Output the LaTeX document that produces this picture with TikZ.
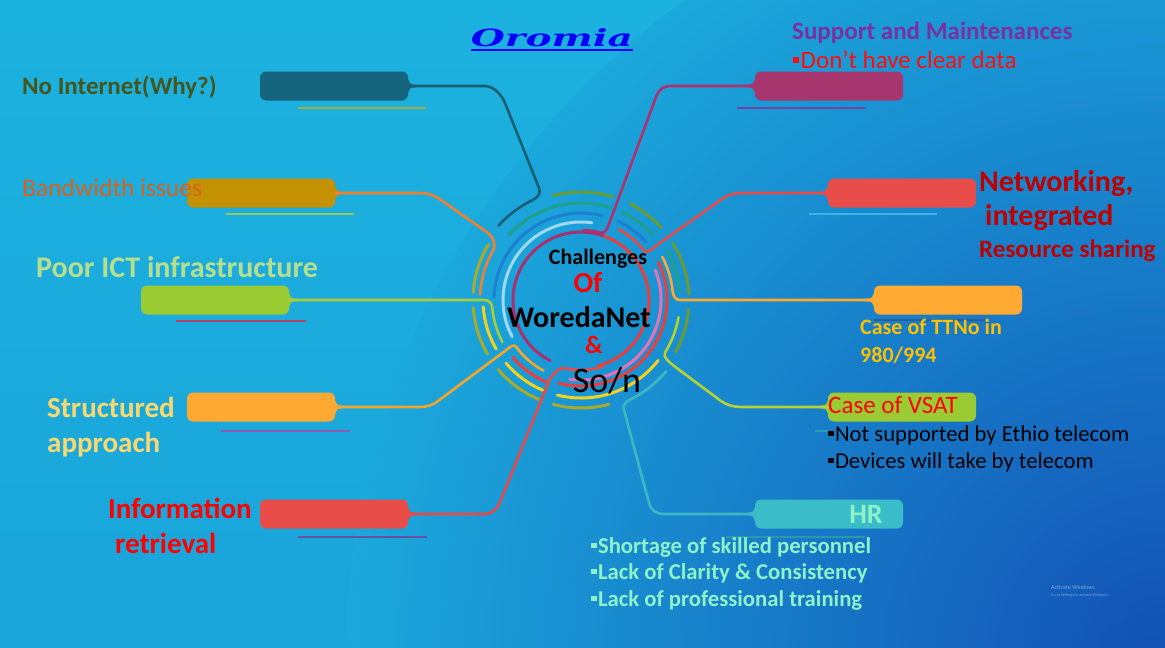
\documentclass[tikz,border=0pt]{standalone}
\usepackage{fontspec}
\usepackage{graphicx}
\setmainfont{Carlito}
\newfontfamily\titlefont{DejaVu Serif}
\definecolor{bgT}{HTML}{1CB2DF}
\definecolor{bgB}{HTML}{1AA4DA}
\definecolor{bgDark}{HTML}{1350B5}
\definecolor{bgMid}{HTML}{1BA8DC}
\definecolor{cNoInt}{HTML}{16657E}\definecolor{lNoInt}{HTML}{1A5E74}
\definecolor{cBand}{HTML}{C49102}\definecolor{lBand}{HTML}{F0802E}
\definecolor{cPoor}{HTML}{9ACB33}\definecolor{lPoor}{HTML}{A8CD3A}
\definecolor{cStruct}{HTML}{FEAA32}\definecolor{lStruct}{HTML}{F5A52A}
\definecolor{cInfo}{HTML}{E84D4A}\definecolor{lInfo}{HTML}{E84A48}
\definecolor{cSupp}{HTML}{A7366E}\definecolor{lSupp}{HTML}{B0306E}
\definecolor{cNet}{HTML}{E84D4A}\definecolor{lNet}{HTML}{E84A48}
\definecolor{cTT}{HTML}{FFAA32}\definecolor{lTT}{HTML}{FFA82E}
\definecolor{cVSAT}{HTML}{9ACB33}\definecolor{lVSAT}{HTML}{B5D232}
\definecolor{cHR}{HTML}{3ABDC9}\definecolor{lHR}{HTML}{3FB7C2}
\definecolor{rMag}{HTML}{A8306E}\definecolor{rRed}{HTML}{E8403F}
\definecolor{rLB}{HTML}{A0D8F2}\definecolor{rPink}{HTML}{E572B8}
\definecolor{rBlue}{HTML}{1D7FD0}\definecolor{rTeal}{HTML}{1FA08C}
\definecolor{rYel}{HTML}{F2D21E}\definecolor{rOliveG}{HTML}{6A9A34}
\definecolor{rOliveY}{HTML}{A9A92A}
\definecolor{tNoInt}{HTML}{44561E}\definecolor{tBand}{HTML}{D8621E}
\definecolor{tPoor}{HTML}{B5DF8E}\definecolor{tStruct}{HTML}{F9D870}
\definecolor{tInfo}{HTML}{FF0000}\definecolor{tSupp}{HTML}{7A30A0}
\definecolor{tDont}{HTML}{FF0D0D}\definecolor{tNet}{HTML}{C00000}
\definecolor{tTT}{HTML}{FFC000}\definecolor{tVSAT}{HTML}{FF0000}
\definecolor{tHR}{HTML}{8EF2C8}\definecolor{titleblue}{HTML}{0000FF}
\definecolor{uNoInt}{HTML}{A0AE40}\definecolor{uBand}{HTML}{9CC65E}
\definecolor{uPoor}{HTML}{B04468}\definecolor{uStruct}{HTML}{8E5DB0}
\definecolor{uInfo}{HTML}{6A50A0}\definecolor{uSupp}{HTML}{7044A0}
\definecolor{uNet}{HTML}{3FB2EA}\definecolor{uTT}{HTML}{2A5C9A}
\definecolor{uVSAT}{HTML}{2AA0B0}\definecolor{uHR}{HTML}{2A9AAA}
\newcommand\bul{\raisebox{0.22em}{\rule{0.24em}{0.24em}}\hspace{0.06em}}
\newcommand\neck[3]{\fill[#2] ([shift={(0,-6.5)}]#1) .. controls ([shift={({2*#3},-1.6)}]#1) .. ([shift={({8*#3},-1.3)}]#1) -- ([shift={({8*#3},1.3)}]#1) .. controls ([shift={({2*#3},1.6)}]#1) .. ([shift={(0,6.5)}]#1) -- cycle;}
\tikzset{
  box/.style={rectangle, rounded corners=6pt, minimum width=148pt, minimum height=29pt, inner sep=0pt, draw=none},
  conn/.style={line width=2.6pt, line cap=round, line join=round},
  ring/.style={line width=3pt, line cap=round},
  uline/.style={line width=1.4pt},
  lbl/.style={anchor=base west, inner sep=0pt},
  clbl/.style={anchor=base, inner sep=0pt},
}
\begin{document}
\begin{tikzpicture}[x=1pt,y=-1pt]
\useasboundingbox (0,0) rectangle (1165,648);
% background
\shade[top color=bgT, bottom color=bgB] (0,0) rectangle (1165,648);
\begin{scope}
  \clip (0,0) rectangle (1165,648);
  \shade[inner color=bgDark, outer color=bgMid] (1165,665) circle (820);
\end{scope}
\coordinate (C) at (581,300);
% title
\node[clbl, text=titleblue] (tTitle) at (552,46) {\resizebox{162pt}{18pt}{\titlefont\bfseries\itshape Oromia}};
\draw[line width=2.4pt, titleblue] ([yshift=-4pt]tTitle.base west) -- ([yshift=-4pt]tTitle.base east);
% underlines
\draw[uline, uNoInt] (298,108) -- (426,108);
\draw[uline, uBand] (226,214) -- (354,214);
\draw[uline, uPoor] (176,321) -- (306,321);
\draw[uline, uStruct] (221,431) -- (350,431);
\draw[uline, uInfo] (298,537) -- (427,537);
\draw[uline, uSupp] (737,108) -- (866,108);
\draw[uline, uNet] (809,214) -- (937,214);
\draw[uline, uTT] (874,320) -- (985,320);
\draw[uline, uVSAT] (815,431) -- (828,431);
\draw[uline, uHR] (726,537) -- (865,537);
% rings
\foreach \r/\a/\b/\c in {68/117/290/rMag, 68/290/435/rRed, 78/152/278/rLB, 80/-22/98/rPink,
  87/182/284/rBlue, 87/295/318/rBlue, 89/113/140/rRed, 86/334/465/rRed,
  97/222/288/rTeal, 97/295/318/rTeal, 99/330/355/rTeal,
  98/150/176/rYel, 98/113/140/rYel, 98/38/104/rYel,
  108/255/287/rOliveG, 108/297/318/rOliveG, 108/328/357/rOliveG, 108/5/29/rOliveG,
  108/184/211/rOliveY, 108/150/176/rOliveY, 108/113/140/rOliveY, 108/75/105/rOliveY}
  \draw[ring, \c] ([shift={(\a:\r)}]C) arc[start angle=\a, end angle=\b, radius=\r];
% boxes
\node[box, fill=cNoInt] (bNoInt) at (334,86) {};
\node[box, fill=cBand] (bBand) at (261,193) {};
\node[box, fill=cPoor] (bPoor) at (215,300) {};
\node[box, fill=cStruct] (bStruct) at (261,407) {};
\node[box, fill=cInfo] (bInfo) at (334,514) {};
\node[box, fill=cSupp] (bSupp) at (829,86) {};
\node[box, fill=cNet] (bNet) at (902,193) {};
\node[box, fill=cTT] (bTT) at (948,300) {};
\node[box, fill=cVSAT] (bVSAT) at (902,407) {};
\node[box, fill=cHR] (bHR) at (829,514) {};
\neck{bNoInt.east}{cNoInt}{1}
\neck{bBand.east}{cBand}{1}
\neck{bPoor.east}{cPoor}{1}
\neck{bStruct.east}{cStruct}{1}
\neck{bInfo.east}{cInfo}{1}
\neck{bSupp.west}{cSupp}{-1}
\neck{bNet.west}{cNet}{-1}
\neck{bTT.west}{cTT}{-1}
\neck{bVSAT.west}{cVSAT}{-1}
\neck{bHR.west}{cHR}{-1}
% connectors
\draw[conn, lNoInt] (bNoInt.east) -- (484,86) .. controls (495,86) and (502,96) .. (505,103) -- (539,188) .. controls (541.2,193.6) and (537.7,197.6) .. (532.3,200.2) arc[start angle=244, end angle=222, radius=111];
\draw[conn, lBand] (bBand.east) -- (420,193) .. controls (430,193) and (436.1,196.5) .. (441,200) -- (488,233) .. controls (492.1,235.9) and (496.5,244.3) .. (493.5,249.5) arc[start angle=210, end angle=183, radius=101];
\draw[conn, lPoor] (bPoor.east) -- (484,300) .. controls (489,300) and (491.9,302.8) .. (492.3,307.8) arc[start angle=175, end angle=152, radius=89];
\draw[conn, lStruct] (bStruct.east) -- (420,407) .. controls (428,407) and (433.2,404.6) .. (438,401) -- (505,351) .. controls (509,348) and (513.4,343) .. (516.3,347) arc[start angle=144, end angle=118, radius=80];
\draw[conn, lInfo] (bInfo.east) -- (484,514) .. controls (493,514) and (497.4,508.5) .. (500,502) -- (549,381) .. controls (551.3,375.4) and (559.5,366.9) .. (565.3,368.2) arc[start angle=103, end angle=72, radius=70];
\draw[conn, lSupp] (bSupp.west) -- (672,86) .. controls (662,86) and (658.4,90.4) .. (656,97) -- (609,224) .. controls (607.6,227.8) and (605.1,234.1) .. (600.3,232.7) arc[start angle=286, end angle=272, radius=70];
\draw[conn, lNet] (bNet.west) -- (742,193) .. controls (733,193) and (726.9,195.5) .. (722,199) -- (657,245) .. controls (653.7,247.3) and (647.1,254.6) .. (644,250.7) arc[start angle=322, end angle=298, radius=80];
\draw[conn, lTT] (bTT.west) -- (680,300) .. controls (675,300) and (673,295.4) .. (672.5,290.4) arc[start angle=354, end angle=332, radius=92];
\draw[conn, lVSAT] (bVSAT.west) -- (742,407) .. controls (733,407) and (725.8,404.6) .. (721,401) -- (674,366) .. controls (670,363) and (662.4,356.7) .. (665,352.5) arc[start angle=32, end angle=10, radius=99];
\draw[conn, lHR] (bHR.west) -- (664,514) .. controls (656,514) and (650.8,509.8) .. (649,503) -- (624,410) .. controls (622.7,405.2) and (625.2,402) .. (629.7,399.8) arc[start angle=64, end angle=40, radius=111];
% left labels
\node[lbl, text=tNoInt, font=\fontsize{25}{30}\selectfont\bfseries] (tNoInt) at (22,94) {No Internet(Why?)};
\node[lbl, text=tBand, font=\fontsize{25.5}{30}\selectfont] (tBand) at (22,196) {Bandwidth issues};
\node[lbl, text=tPoor, font=\fontsize{30}{36}\selectfont\bfseries] (tPoor) at (36,277) {Poor ICT infrastructure};
\node[lbl, text=tStruct, font=\fontsize{29}{35}\selectfont\bfseries] (tStruct1) at (47,417) {Structured};
\node[lbl, text=tStruct, font=\fontsize{29}{35}\selectfont\bfseries] (tStruct2) at (47,452) {approach};
\node[lbl, text=tInfo, font=\fontsize{29}{35}\selectfont\bfseries] (tInfo1) at (108,518) {Information};
\node[lbl, text=tInfo, font=\fontsize{29}{35}\selectfont\bfseries] (tInfo2) at (115,553) {retrieval};
% right labels
\node[lbl, text=tSupp, font=\fontsize{25}{30}\selectfont\bfseries] (tSupp) at (792,39) {Support and Maintenances};
\node[lbl, text=tDont, font=\fontsize{25}{30}\selectfont] (tDont) at (793,68) {\bul Don’t have clear data};
\node[lbl, text=tNet, font=\fontsize{30}{36}\selectfont\bfseries] (tNet1) at (979,191) {Networking,};
\node[lbl, text=tNet, font=\fontsize{30}{36}\selectfont\bfseries] (tNet2) at (985,225) {integrated};
\node[lbl, text=tNet, font=\fontsize{25}{30}\selectfont\bfseries] (tNet3) at (979,257) {Resource sharing};
\node[lbl, text=tTT, font=\fontsize{22}{26}\selectfont\bfseries] (tTT1) at (860,334) {Case of TTNo in};
\node[lbl, text=tTT, font=\fontsize{22}{26}\selectfont\bfseries] (tTT2) at (860,362) {980/994};
\node[lbl, text=tVSAT, font=\fontsize{25}{30}\selectfont] (tVSAT) at (828,413) {Case of VSAT};
\node[lbl, text=black, font=\fontsize{22.7}{27}\selectfont] (tVSAT1) at (828,441) {\bul Not supported by Ethio telecom};
\node[lbl, text=black, font=\fontsize{22.7}{27}\selectfont] (tVSAT2) at (828,468) {\bul Devices will take by telecom};
\node[clbl, text=tHR, font=\fontsize{28}{34}\selectfont\bfseries] (tHR) at (866,523) {HR};
\node[lbl, text=tHR, font=\fontsize{22.7}{27}\selectfont\bfseries] (tHR1) at (591,553) {\bul Shortage of skilled personnel};
\node[lbl, text=tHR, font=\fontsize{22.7}{27}\selectfont\bfseries] (tHR2) at (591,579) {\bul Lack of Clarity \& Consistency};
\node[lbl, text=tHR, font=\fontsize{22.7}{27}\selectfont\bfseries] (tHR3) at (591,606) {\bul Lack of professional training};
% centre
\node[clbl, text=black, font=\fontsize{22}{26}\selectfont\bfseries] (cChal) at (598,264) {Challenges};
\node[clbl, text=red, font=\fontsize{29}{35}\selectfont\bfseries] (cOf) at (588,292) {Of};
\node[clbl, text=black, font=\fontsize{30}{36}\selectfont\bfseries] (cWor) at (579,327) {WoredaNet};
\node[clbl, text=red, font=\fontsize{25}{30}\selectfont\bfseries] (cAmp) at (594,353) {\&};
\node[clbl, text=black, font=\fontsize{36}{43}\selectfont] (cSol) at (607,392) {So/n};
% watermark
\node[lbl, text=white, opacity=0.45, font=\fontsize{6}{7}\selectfont] (wm1) at (1051,589) {Activate Windows};
\node[lbl, text=white, opacity=0.45, font=\fontsize{4}{5}\selectfont] (wm2) at (1051,596) {Go to Settings to activate Windows.};
\end{tikzpicture}
\end{document}
